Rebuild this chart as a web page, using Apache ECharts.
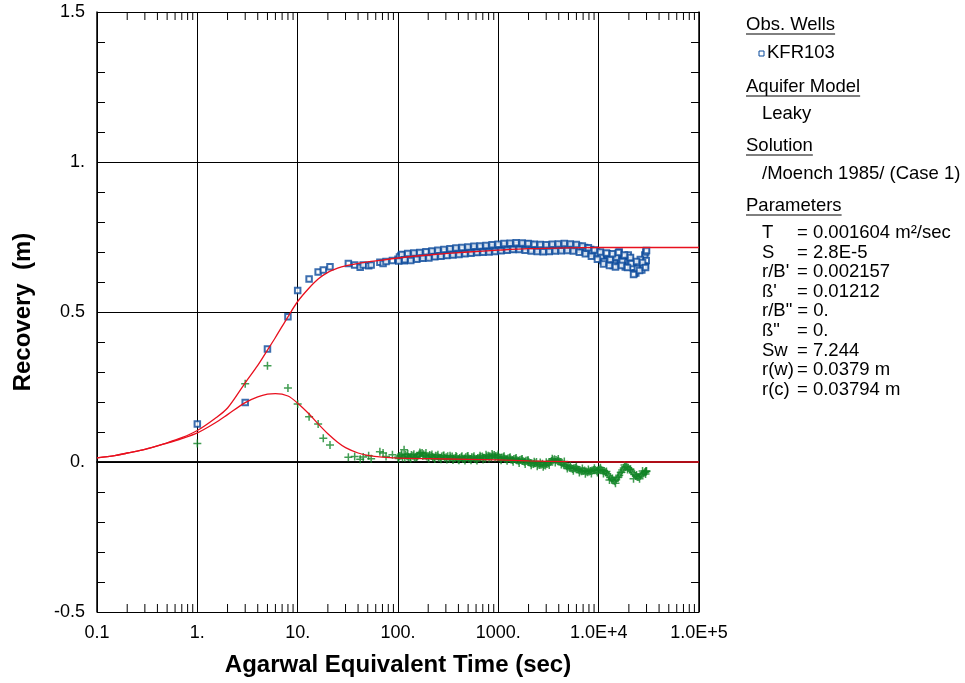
<!DOCTYPE html>
<html>
<head>
<meta charset="utf-8">
<script src="https://cdn.jsdelivr.net/npm/echarts@6/dist/echarts.min.js"></script>
<style>
  html, body { margin: 0; padding: 0; background: #fff; }
  #chart { width: 965px; height: 683px; }
</style>
</head>
<body>
<div id="chart"></div>
<script>
// early readings (sec, m)
var tEarly = [1, 3, 5, 8, 10, 13, 16, 18, 21, 32, 37, 42, 45, 51, 54, 66, 71, 76, 88]
var recEarly = [0.127, 0.198, 0.377, 0.484, 0.572, 0.610, 0.633, 0.640, 0.651, 0.662, 0.657, 0.649, 0.657, 0.654, 0.657, 0.666, 0.662, 0.668, 0.672]
var derEarly = [0.062, 0.261, 0.321, 0.247, 0.193, 0.151, 0.127, 0.079, 0.057, 0.016, 0.018, 0.009, 0.017, 0.021, 0.011, 0.034, 0.030, 0.018, 0.024]

// late readings, first pass
var tLate = [100, 107, 115, 123, 132, 141, 151, 162, 174, 186, 200, 214, 229, 245, 263, 282, 302, 324, 347, 372,
  398, 427, 457, 490, 525, 562, 603, 646, 692, 741, 794, 851, 912, 977, 1047, 1122, 1202, 1288, 1380, 1479,
  1585, 1698, 1820, 1950, 2089, 2239, 2399, 2570, 2754, 2951, 3162, 3388, 3631, 3890, 4169, 4467, 4786, 5129, 5495, 5888,
  6310, 6761, 7244, 7762, 8318, 8913, 9550, 10233, 10965, 11749, 12589, 13490, 14454, 15488, 16596, 17783, 19055, 20417, 21878, 23442,
  25119, 26915, 28840, 29200, 29500, 29800, 30000]
var recLate = [0.676, 0.688, 0.671, 0.684, 0.679, 0.692, 0.681, 0.686, 0.695, 0.683, 0.691, 0.698, 0.686, 0.694, 0.700, 0.689, 0.697, 0.703, 0.693, 0.701,
  0.706, 0.696, 0.703, 0.709, 0.699, 0.707, 0.712, 0.702, 0.709, 0.714, 0.704, 0.711, 0.716, 0.706, 0.713, 0.719, 0.709, 0.716, 0.722, 0.712,
  0.719, 0.724, 0.714, 0.721, 0.725, 0.713, 0.719, 0.709, 0.716, 0.704, 0.712, 0.706, 0.715, 0.709, 0.718, 0.711, 0.720, 0.713, 0.721, 0.714,
  0.719, 0.709, 0.715, 0.702, 0.708, 0.694, 0.700, 0.695, 0.672, 0.690, 0.665, 0.688, 0.662, 0.692, 0.660, 0.685, 0.655, 0.678, 0.648, 0.630,
  0.660, 0.640, 0.690, 0.655, 0.700, 0.672, 0.705]
var derLate = [0.016, 0.022, 0.041, 0.019, 0.014, 0.021, 0.017, 0.025, 0.030, 0.022, 0.016, 0.020, 0.014, 0.019, 0.013, 0.021, 0.016, 0.011, 0.018, 0.013,
  0.009, 0.016, 0.012, 0.018, 0.010, 0.015, 0.009, 0.014, 0.018, 0.012, 0.021, 0.015, 0.023, 0.018, 0.012, 0.016, 0.009, 0.013, 0.007, 0.011,
  0.004, 0.008, 0.001, 0.005, -0.003, -0.007, 0.000, -0.010, -0.006, -0.012, -0.004, 0.003, 0.009, 0.004, 0.000, -0.008, -0.014, -0.019, -0.023, -0.020,
  -0.026, -0.031, -0.028, -0.034, -0.030, -0.027, -0.029, -0.025, -0.028, -0.034, -0.045, -0.058, -0.064, -0.052, -0.035, -0.020, -0.016, -0.024, -0.036, -0.047,
  -0.050, -0.041, -0.035, -0.033, -0.031, -0.032, -0.030]

// late readings, second pass
var tLateB = [103.5, 111, 119, 127, 136, 146, 157, 168, 180, 193,
  207, 222, 237, 254, 272, 292, 313, 335, 359, 385,
  412, 442, 473, 507, 543, 582, 624, 668, 716, 767,
  822, 881, 944, 1012, 1084, 1161, 1245, 1334, 1429, 1531,
  1641, 1758, 1884, 2018, 2163, 2317, 2483, 2661, 2851, 3055,
  3273, 3508, 3758, 4027, 4315, 4624, 4955, 5309, 5689, 6095,
  6531, 6998, 7499, 8035, 8610, 9226, 9886, 10593, 11350, 12162,
  13032, 13964, 14962, 16032, 17179, 18408, 19724, 21135, 22646, 24266,
  26002, 27861]
var recLateB = [0.683, 0.675, 0.690, 0.678, 0.687, 0.680, 0.693, 0.682, 0.689, 0.697,
  0.687, 0.693, 0.699, 0.688, 0.695, 0.701, 0.692, 0.698, 0.706, 0.696,
  0.702, 0.708, 0.698, 0.704, 0.710, 0.701, 0.707, 0.713, 0.703, 0.709,
  0.716, 0.707, 0.712, 0.718, 0.708, 0.714, 0.720, 0.711, 0.717, 0.723,
  0.713, 0.719, 0.726, 0.716, 0.709, 0.721, 0.712, 0.718, 0.708, 0.715,
  0.719, 0.710, 0.716, 0.712, 0.721, 0.714, 0.717, 0.709, 0.716, 0.711,
  0.713, 0.704, 0.709, 0.697, 0.703, 0.690, 0.694, 0.684, 0.668, 0.694,
  0.675, 0.655, 0.683, 0.700, 0.668, 0.650, 0.690, 0.662, 0.628, 0.645,
  0.675, 0.652]
var derLateB = [0.020, 0.015, 0.024, 0.017, 0.023, 0.015, 0.020, 0.028, 0.026, 0.018,
  0.023, 0.017, 0.021, 0.015, 0.018, 0.013, 0.019, 0.015, 0.012, 0.017,
  0.013, 0.010, 0.016, 0.012, 0.016, 0.011, 0.013, 0.017, 0.014, 0.018,
  0.019, 0.022, 0.020, 0.015, 0.014, 0.011, 0.012, 0.008, 0.010, 0.006,
  0.007, 0.003, 0.004, -0.001, -0.005, -0.004, -0.008, -0.009, -0.010, -0.007,
  0.000, 0.006, 0.007, 0.002, -0.003, -0.011, -0.016, -0.021, -0.021, -0.024,
  -0.028, -0.030, -0.032, -0.032, -0.028, -0.027, -0.027, -0.026, -0.030, -0.039,
  -0.052, -0.062, -0.059, -0.044, -0.027, -0.017, -0.019, -0.030, -0.042, -0.050,
  -0.046, -0.038]

// late readings, third pass
var tLateC = [101.7, 109, 117, 125, 134, 144, 154, 165, 177, 190,
  203, 218, 233, 250, 268, 287, 307, 330, 353, 378,
  405, 434, 465, 498, 534, 572, 613, 657, 704, 754,
  808, 866, 928, 994, 1065, 1141, 1223, 1311, 1404, 1505,
  1612, 1728, 1851, 1984, 2125, 2278, 2441, 2615, 2802, 3003,
  3217, 3447, 3694, 3958, 4241, 4545, 4869, 5218, 5591, 5990,
  6419, 6878, 7370, 7897, 8462, 9067, 9716, 10411, 11155, 11953,
  12808, 13724, 14705, 15757, 16884, 18091, 19385, 20771, 22257, 23849,
  25554, 27382, 29340]
var recLateC = [0.670, 0.692, 0.674, 0.695, 0.672, 0.697, 0.676, 0.698, 0.679, 0.701,
  0.680, 0.703, 0.684, 0.706, 0.686, 0.708, 0.688, 0.711, 0.690, 0.713,
  0.692, 0.715, 0.694, 0.717, 0.696, 0.719, 0.698, 0.720, 0.699, 0.722,
  0.700, 0.724, 0.702, 0.726, 0.704, 0.728, 0.706, 0.729, 0.708, 0.731,
  0.708, 0.730, 0.706, 0.728, 0.703, 0.726, 0.702, 0.725, 0.701, 0.724,
  0.702, 0.726, 0.703, 0.727, 0.704, 0.728, 0.705, 0.727, 0.703, 0.725,
  0.699, 0.720, 0.694, 0.714, 0.686, 0.707, 0.676, 0.700, 0.660, 0.697,
  0.655, 0.694, 0.650, 0.698, 0.655, 0.690, 0.648, 0.682, 0.625, 0.668,
  0.638, 0.665, 0.648]
var derLateC = [0.012, 0.026, 0.013, 0.027, 0.012, 0.026, 0.016, 0.032, 0.020, 0.030,
  0.012, 0.025, 0.010, 0.024, 0.009, 0.022, 0.008, 0.021, 0.007, 0.020,
  0.006, 0.019, 0.005, 0.020, 0.006, 0.019, 0.005, 0.021, 0.008, 0.024,
  0.012, 0.027, 0.014, 0.025, 0.006, 0.019, 0.004, 0.016, 0.001, 0.013,
  -0.003, 0.010, -0.007, 0.006, -0.011, 0.001, -0.014, -0.002, -0.016, -0.001,
  -0.010, 0.011, -0.002, 0.010, -0.008, 0.002, -0.022, -0.012, -0.029, -0.016,
  -0.035, -0.022, -0.039, -0.025, -0.038, -0.021, -0.035, -0.019, -0.038, -0.032,
  -0.060, -0.055, -0.071, -0.050, -0.034, -0.010, -0.025, -0.024, -0.056, -0.043,
  -0.056, -0.030, -0.040]

// fitted model curves
var modelT = [0.1, 0.15, 0.2, 0.3, 0.5, 0.7, 1, 1.5, 2, 3, 4, 5, 6, 8, 10, 13, 16, 20, 25, 30, 40, 50, 70, 100, 200, 500, 1000, 2000, 5000, 10000, 30000, 100000]
var modelRec = [0.014, 0.021, 0.030, 0.042, 0.064, 0.081, 0.105, 0.145, 0.180, 0.264, 0.322, 0.373, 0.415, 0.484, 0.535, 0.580, 0.610, 0.632, 0.646, 0.654, 0.662, 0.667, 0.673, 0.680, 0.690, 0.700, 0.706, 0.711, 0.714, 0.715, 0.715, 0.715]
var modelDer = [0.014, 0.021, 0.030, 0.042, 0.063, 0.078, 0.097, 0.130, 0.158, 0.198, 0.217, 0.226, 0.228, 0.220, 0.196, 0.160, 0.127, 0.094, 0.066, 0.048, 0.030, 0.022, 0.016, 0.013, 0.011, 0.009, 0.007, 0.004, 0.001, 0, 0, 0]

var xTickLabels = ['0.1', '1.', '10.', '100.', '1000.', '1.0E+4', '1.0E+5']
var yTickLabels = { '-0.5': '-0.5', '0': '0.', '0.5': '0.5', '1': '1.', '1.5': '1.5' }
var minorX = [0.2, 0.3, 0.4, 0.5, 0.6, 0.7, 0.8, 0.9, 2, 3, 4, 5, 6, 7, 8, 9, 20, 30, 40, 50, 60, 70, 80, 90,
  200, 300, 400, 500, 600, 700, 800, 900, 2000, 3000, 4000, 5000, 6000, 7000, 8000, 9000,
  20000, 30000, 40000, 50000, 60000, 70000, 80000, 90000]

var paramNames = ['T', 'S', "r/B'", "ß'", 'r/B"', 'ß"', 'Sw', 'r(w)', 'r(c)']
var paramValues = ['= 0.001604 m²/sec', '= 2.8E-5', '= 0.002157', '= 0.01212', '= 0.', '= 0.', '= 7.244', '= 0.0379 m', '= 0.03794 m']

var FONT = '"Liberation Sans", Arial, sans-serif'
var BLUE = '#0b4a9b'
var GREEN = '#128427'
var RED = '#e8101e'

function zip (xs, ys) {
  return xs.map(function (x, i) { return [x, ys[i]] })
}

var measureCtx = document.createElement('canvas').getContext('2d')
function textWidth (s, size) {
  measureCtx.font = size + 'px ' + FONT
  return measureCtx.measureText(s).width
}

// side panel
function buildPanel () {
  var g = []
  var size = 18.5
  function text (x, y, s) {
    g.push({ type: 'text', x: x, y: y, style: { text: s, fontSize: size, fontFamily: FONT, fill: '#000', verticalAlign: 'middle' } })
  }
  function header (x, y, s) {
    text(x, y, s)
    var w = textWidth(s, size)
    g.push({ type: 'line', shape: { x1: x, y1: y + 9, x2: x + w, y2: y + 9 }, style: { stroke: '#000', lineWidth: 1 } })
  }
  header(746, 25, 'Obs. Wells')
  g.push({ type: 'rect', shape: { x: 759, y: 51, width: 5, height: 5 }, style: { fill: '#fff', stroke: BLUE, lineWidth: 1 } })
  text(767, 53, 'KFR103')
  header(746, 87, 'Aquifer Model')
  text(762, 114, 'Leaky')
  header(746, 146, 'Solution')
  text(762, 174, '/Moench 1985/ (Case 1)')
  header(746, 206, 'Parameters')
  paramNames.forEach(function (n, i) {
    var y = 233 + i * 19.6
    text(762, y, n)
    var gap = n === 'r(w)' ? 1 : 5
    var x = Math.max(797, 762 + textWidth(n, size) + gap)
    text(x, y, paramValues[i])
  })
  return g
}

var chart = echarts.init(document.getElementById('chart'))

var axisLine = { show: true, lineStyle: { color: '#000', width: 1.5 } }
var gridLine = { show: true, lineStyle: { color: '#000', width: 1 } }

var option = {
  animation: false,
  backgroundColor: '#fff',
  textStyle: { fontFamily: FONT },
  grid: { left: 97, right: 266, top: 12, bottom: 71 },
  xAxis: [{
    type: 'log',
    logBase: 10,
    min: 0.1,
    max: 100000,
    splitNumber: 6,
    position: 'bottom',
    name: 'Agarwal Equivalent Time (sec)',
    nameLocation: 'middle',
    nameGap: 41,
    nameTextStyle: { fontSize: 24, fontWeight: 'bold', color: '#000', fontFamily: FONT },
    axisLine: axisLine,
    axisTick: { inside: true, length: 15, lineStyle: { color: '#000', width: 1 } },
    axisLabel: {
      fontSize: 18,
      color: '#000',
      margin: 12,
      fontFamily: FONT,
      formatter: function (v) { return xTickLabels[Math.round(Math.log10(v)) + 1] }
    },
    splitLine: gridLine
  }, {
    type: 'log',
    logBase: 10,
    min: 0.1,
    max: 100000,
    splitNumber: 6,
    position: 'top',
    axisLine: axisLine,
    axisTick: { inside: true, length: 15, lineStyle: { color: '#000', width: 1 } },
    axisLabel: { show: false },
    splitLine: { show: false }
  }],
  yAxis: [{
    type: 'value',
    min: -0.5,
    max: 1.5,
    interval: 0.5,
    position: 'left',
    name: 'Recovery  (m)',
    nameLocation: 'middle',
    nameGap: 62,
    nameTextStyle: { fontSize: 24, fontWeight: 'bold', color: '#000', fontFamily: FONT },
    axisLine: axisLine,
    axisTick: { inside: true, length: 17, lineStyle: { color: '#000', width: 1 } },
    minorTick: { show: true, splitNumber: 5, length: 8, lineStyle: { color: '#000', width: 1 } },
    axisLabel: {
      fontSize: 18,
      color: '#000',
      margin: 12,
      fontFamily: FONT,
      formatter: function (v) { return yTickLabels[String(Math.round(v * 10) / 10)] }
    },
    splitLine: gridLine
  }, {
    type: 'value',
    min: -0.5,
    max: 1.5,
    interval: 0.5,
    position: 'right',
    axisLine: axisLine,
    axisTick: { inside: true, length: 17, lineStyle: { color: '#000', width: 1 } },
    minorTick: { show: true, splitNumber: 5, length: 8, lineStyle: { color: '#000', width: 1 } },
    axisLabel: { show: false },
    splitLine: { show: false }
  }],
  graphic: buildPanel(),
  series: [
    {
      // minor log ticks, top and bottom
      type: 'custom',
      silent: true,
      xAxisIndex: 0,
      yAxisIndex: 0,
      data: minorX.map(function (v) { return [v, 0] }),
      renderItem: function (params, api) {
        var v = api.value(0)
        var pb = api.coord([v, -0.5])
        var pt = api.coord([v, 1.5])
        var st = { stroke: '#000', lineWidth: 1 }
        return {
          type: 'group',
          children: [
            { type: 'line', shape: { x1: pb[0], y1: pb[1], x2: pb[0], y2: pb[1] - 8 }, style: st },
            { type: 'line', shape: { x1: pt[0], y1: pt[1], x2: pt[0], y2: pt[1] + 8 }, style: st }
          ]
        }
      }
    },
    {
      name: 'KFR103',
      type: 'scatter',
      symbol: 'emptyRect',
      symbolSize: 5.5,
      itemStyle: { color: BLUE, borderWidth: 1.6 },
      data: zip(tEarly, recEarly).concat(zip(tLate, recLate), zip(tLateB, recLateB), zip(tLateC, recLateC)),
      z: 3
    },
    {
      name: 'derivative',
      type: 'scatter',
      symbol: 'path://M3,0h1.4v3h3v1.4h-3v3h-1.4v-3h-3v-1.4h3z',
      symbolSize: 8,
      itemStyle: { color: GREEN },
      data: zip(tEarly, derEarly).concat(zip(tLate, derLate), zip(tLateB, derLateB), zip(tLateC, derLateC)),
      z: 3
    },
    {
      type: 'line',
      smooth: 0.3,
      showSymbol: false,
      lineStyle: { color: RED, width: 1.3 },
      data: zip(modelT, modelRec),
      z: 4
    },
    {
      type: 'line',
      smooth: 0.3,
      showSymbol: false,
      lineStyle: { color: RED, width: 1.3 },
      data: zip(modelT, modelDer),
      z: 4
    }
  ]
}

chart.setOption(option)
</script>
</body>
</html>
